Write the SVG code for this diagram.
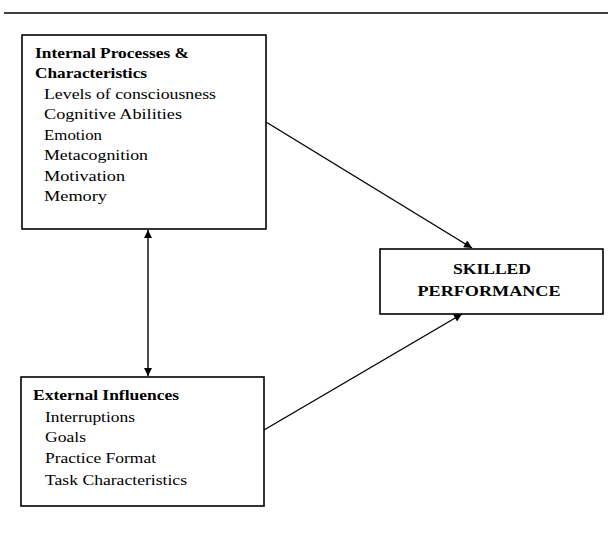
<svg xmlns="http://www.w3.org/2000/svg" width="608" height="546" viewBox="0 0 608 546">
<defs>
<style>
.box{fill:#fff;stroke:#000;stroke-width:1.6}
text{font-family:"Liberation Serif","Times New Roman",serif;font-size:15px;fill:#000}
.b{font-weight:bold}
.con{stroke:#000;stroke-width:1.4;fill:none}
</style>
<marker id="ah" viewBox="0 0 10 10" refX="10" refY="5" markerWidth="9" markerHeight="8" markerUnits="userSpaceOnUse" orient="auto-start-reverse">
<path d="M0,0 L10,5 L0,10 z" fill="#000"/>
</marker>
</defs>
<rect width="608" height="546" fill="#fff"/>
<line x1="4" y1="13" x2="608" y2="13" stroke="#000" stroke-width="1.6"/>
<g id="internal">
<rect class="box" x="22" y="35" width="244" height="194"/>
<text class="b" x="35" y="58" textLength="154" lengthAdjust="spacingAndGlyphs">Internal Processes &amp;</text>
<text class="b" x="35" y="78" textLength="112" lengthAdjust="spacingAndGlyphs">Characteristics</text>
<text x="44" y="99" textLength="172" lengthAdjust="spacingAndGlyphs">Levels of consciousness</text>
<text x="44" y="119" textLength="138" lengthAdjust="spacingAndGlyphs">Cognitive Abilities</text>
<text x="44" y="140" textLength="58" lengthAdjust="spacingAndGlyphs">Emotion</text>
<text x="44" y="160" textLength="104" lengthAdjust="spacingAndGlyphs">Metacognition</text>
<text x="44" y="181" textLength="81" lengthAdjust="spacingAndGlyphs">Motivation</text>
<text x="44" y="201" textLength="63" lengthAdjust="spacingAndGlyphs">Memory</text>
</g>
<g id="external">
<rect class="box" x="21" y="377" width="243" height="129"/>
<text class="b" x="33" y="400" textLength="146" lengthAdjust="spacingAndGlyphs">External Influences</text>
<text x="45" y="422" textLength="90" lengthAdjust="spacingAndGlyphs">Interruptions</text>
<text x="45" y="442" textLength="41" lengthAdjust="spacingAndGlyphs">Goals</text>
<text x="45" y="463" textLength="111" lengthAdjust="spacingAndGlyphs">Practice Format</text>
<text x="45" y="485" textLength="142" lengthAdjust="spacingAndGlyphs">Task Characteristics</text>
</g>
<g id="skilled">
<rect class="box" x="380" y="249" width="223" height="65"/>
<text class="b" x="492" y="274" text-anchor="middle" textLength="78" lengthAdjust="spacingAndGlyphs">SKILLED</text>
<text class="b" x="489" y="296" text-anchor="middle" textLength="143" lengthAdjust="spacingAndGlyphs">PERFORMANCE</text>
</g>
<g id="connectors">
<line class="con" x1="148" y1="230" x2="148" y2="376" marker-start="url(#ah)" marker-end="url(#ah)"/>
<line class="con" x1="266" y1="122" x2="472" y2="248" marker-end="url(#ah)"/>
<line class="con" x1="264" y1="430" x2="462" y2="314" marker-end="url(#ah)"/>
</g>
</svg>
